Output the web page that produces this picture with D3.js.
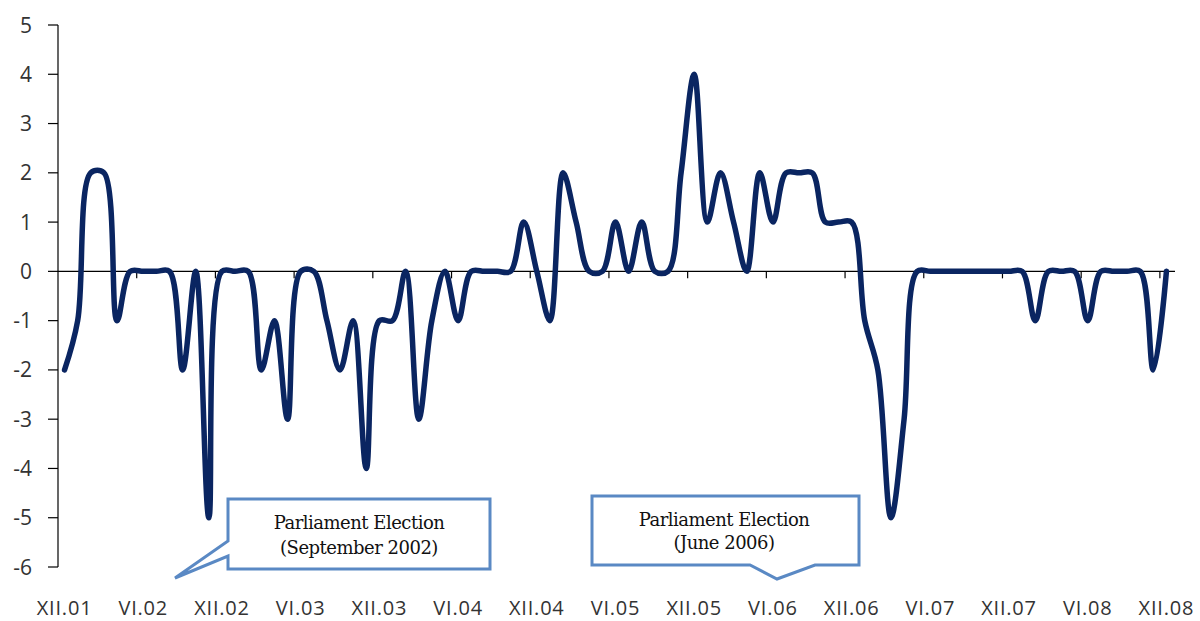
<!DOCTYPE html>
<html>
<head>
<meta charset="utf-8">
<script src="https://cdnjs.cloudflare.com/ajax/libs/d3/7.8.5/d3.min.js"></script>
<style>
  body { margin: 0; background: #fff; }
</style>
</head>
<body>
<script>
//Width and height
var w = 1200;
var h = 621;

//Monthly values, XII.01 .. XII.08
var values = [
  -2, -1, 2, 2, -1, 0, 0, 0, 0, -2, 0, -5,
  0, 0, 0, -2, -1, -3, 0, 0, -1, -2, -1, -4,
  -1, -1, 0, -3, -1, 0, -1, 0, 0, 0, 0, 1,
  0, -1, 2, 1, 0, 0, 1, 0, 1, 0, 0, 2,
  4, 1, 2, 1, 0, 2, 1, 2, 2, 2, 1, 1,
  1, -1, -2, -5, -3, 0, 0, 0, 0, 0, 0, 0,
  0, 0, -1, 0, 0, 0, -1, 0, 0, 0, 0, -2,
  0,
];

var tickLabels = [
  "XII.01", "VI.02", "XII.02", "VI.03", "XII.03", "VI.04", "XII.04", "VI.05",
  "XII.05", "VI.06", "XII.06", "VI.07", "XII.07", "VI.08", "XII.08",
];

var yTicks = [5, 4, 3, 2, 1, 0, -1, -2, -3, -4, -5, -6];

var notes = [
  ["Parliament Election", "(September 2002)"],
  ["Parliament Election", "(June 2006)"],
];

var plotLeft = 58;
var plotRight = 1173;
var plotTop = 25;
var plotBottom = 567;

var xScale = d3
  .scaleBand()
  .domain(d3.range(values.length))
  .range([plotLeft, plotRight])
  .paddingInner(0)
  .paddingOuter(0);

var yScale = d3.scaleLinear().domain([-6, 5]).range([plotBottom, plotTop]);

//Create SVG element
var svg = d3
  .select("body")
  .append("svg")
  .attr("width", w)
  .attr("height", h);

//y axis
svg
  .append("line")
  .attr("x1", plotLeft)
  .attr("x2", plotLeft)
  .attr("y1", yScale(5))
  .attr("y2", yScale(-6))
  .attr("stroke", "#000")
  .attr("stroke-width", 1.2);

svg
  .selectAll(".ytick")
  .data(yTicks)
  .enter()
  .append("line")
  .attr("class", "ytick")
  .attr("x1", plotLeft - 10)
  .attr("x2", plotLeft)
  .attr("y1", function (d) {
    return yScale(d);
  })
  .attr("y2", function (d) {
    return yScale(d);
  })
  .attr("stroke", "#000")
  .attr("stroke-width", 1.2);

svg
  .selectAll(".ylabel")
  .data(yTicks)
  .enter()
  .append("text")
  .attr("class", "ylabel")
  .text(function (d) {
    return d;
  })
  .attr("x", 32)
  .attr("y", function (d) {
    return yScale(d) + 7.5;
  })
  .attr("text-anchor", "end")
  .attr("font-family", "'Open Sans', sans-serif")
  .attr("font-size", "21px")
  .attr("fill", "#333");

//zero line (category axis)
svg
  .append("line")
  .attr("x1", plotLeft)
  .attr("x2", plotRight + 2)
  .attr("y1", yScale(0))
  .attr("y2", yScale(0))
  .attr("stroke", "#000")
  .attr("stroke-width", 1.2);

svg
  .selectAll(".xtick")
  .data(d3.range(6, values.length, 6))
  .enter()
  .append("line")
  .attr("class", "xtick")
  .attr("x1", function (d) {
    return xScale(d);
  })
  .attr("x2", function (d) {
    return xScale(d);
  })
  .attr("y1", yScale(0))
  .attr("y2", yScale(0) + 7)
  .attr("stroke", "#000")
  .attr("stroke-width", 1.2);

svg
  .selectAll(".xlabel")
  .data(tickLabels)
  .enter()
  .append("text")
  .attr("class", "xlabel")
  .text(function (d) {
    return d;
  })
  .attr("x", function (d, i) {
    return xScale(i * 6) + xScale.bandwidth() / 2;
  })
  .attr("y", 615)
  .attr("text-anchor", "middle")
  .attr("font-family", "'Open Sans', sans-serif")
  .attr("font-size", "20px")
  .attr("letter-spacing", "0.8px")
  .attr("fill", "#333");

//Smoothed line
var line = d3
  .line()
  .x(function (d, i) {
    return xScale(i) + xScale.bandwidth() / 2;
  })
  .y(function (d) {
    return yScale(d);
  })
  .curve(d3.curveCatmullRom.alpha(0.5));

svg
  .append("path")
  .datum(values)
  .attr("d", line)
  .attr("fill", "none")
  .attr("stroke", "#0A2561")
  .attr("stroke-width", 5.5)
  .attr("stroke-linejoin", "round")
  .attr("stroke-linecap", "round");

//Callouts
var callouts = [
  {
    path: "M228,499 L490,499 L490,569 L228,569 L228,556 L175,578 L228,541 Z",
    cx: 359,
    y: [529, 554],
  },
  {
    path: "M592,496 L859,496 L859,565 L815,565 L777,579 L750,565 L592,565 Z",
    cx: 724,
    y: [526, 549],
  },
];

callouts.forEach(function (c, k) {
  svg
    .append("path")
    .attr("d", c.path)
    .attr("fill", "#fff")
    .attr("stroke", "#5A89C4")
    .attr("stroke-width", 3)
    .attr("stroke-linejoin", "miter");

  svg
    .selectAll(".note" + k)
    .data(notes[k])
    .enter()
    .append("text")
    .text(function (d) {
      return d;
    })
    .attr("x", c.cx)
    .attr("y", function (d, i) {
      return c.y[i];
    })
    .attr("text-anchor", "middle")
    .attr("font-family", "'DejaVu Serif', serif")
    .attr("font-size", "18px")
    .attr("letter-spacing", "-0.5px")
    .attr("fill", "#111");
});
</script>
</body>
</html>
